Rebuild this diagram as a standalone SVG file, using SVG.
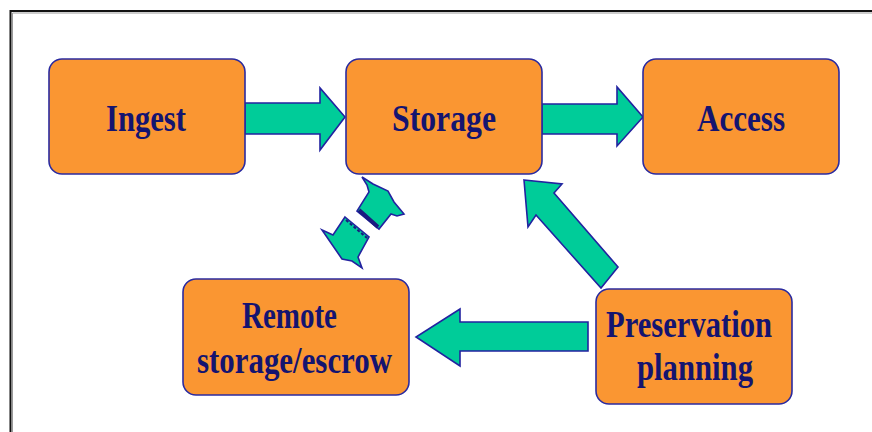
<svg xmlns="http://www.w3.org/2000/svg" width="872" height="432" viewBox="0 0 872 432">
  <style>
    .box { fill: #FA9632; stroke: #2B2BA0; stroke-width: 1.6; }
    .arrow { fill: #00CC99; stroke: #2222A0; stroke-width: 1.6; stroke-linejoin: miter; }
    .label { font-family: "Liberation Serif", "Times New Roman", serif; font-weight: bold; font-size: 37px; fill: #141470; text-anchor: middle; }
  </style>
  <rect width="872" height="432" fill="#ffffff"/>
  <!-- frame -->
  <path d="M10.5 432 V11 H872" fill="none" stroke="#111111" stroke-width="2"/>
  <path d="M12.5 432 V13 H872" fill="none" stroke="#9a9a9a" stroke-width="1"/>

  <g id="connectors">
    <!-- Ingest to Storage -->
    <polygon class="arrow" points="245,103 320,103 320,88 345,117 320,150 320,134 245,134"/>
    <!-- Storage to Access -->
    <polygon class="arrow" points="542,104 617,104 617,87 643,117 617,146 617,134 542,134"/>
    <!-- Preservation planning to Remote storage -->
    <polygon class="arrow" points="588,322 460,322 460,309 416,337 460,366 460,351 588,351"/>
    <!-- Preservation planning to Storage -->
    <polygon class="arrow" points="524,180 562,184 554,193 618,267 601,288 536,215 528,227"/>
    <!-- Storage / Remote storage exchange -->
    <polygon class="arrow" points="362,177 373,184 388,191 394,202 404,214 397,216 391,214 379,229 357,211 369,192 367,185"/>
    <polygon class="arrow" points="345,217 369,237 358,257 362,268 352,261 342,259 331,243 322,230 333,235"/>
    <path d="M359 210 L378 227" stroke="#1a1a80" stroke-width="4"/>
    <path d="M346 220 L367 238" stroke="#1a1a80" stroke-width="2" stroke-dasharray="3 2"/>
  </g>

  <g id="ingest">
    <rect class="box" x="49" y="59" width="196" height="115" rx="13"/>
    <text class="label" x="146" y="131" textLength="80" lengthAdjust="spacingAndGlyphs">Ingest</text>
  </g>
  <g id="storage">
    <rect class="box" x="346" y="59" width="196" height="115" rx="13"/>
    <text class="label" x="444" y="131" textLength="104" lengthAdjust="spacingAndGlyphs">Storage</text>
  </g>
  <g id="access">
    <rect class="box" x="643" y="59" width="196" height="115" rx="13"/>
    <text class="label" x="741" y="131" textLength="88" lengthAdjust="spacingAndGlyphs">Access</text>
  </g>
  <g id="remote">
    <rect class="box" x="183" y="279" width="226" height="116" rx="13"/>
    <text class="label" x="289.5" y="328" textLength="95" lengthAdjust="spacingAndGlyphs">Remote</text>
    <text class="label" x="294.5" y="373" textLength="195" lengthAdjust="spacingAndGlyphs">storage/escrow</text>
  </g>
  <g id="preservation">
    <rect class="box" x="596" y="289" width="196" height="115" rx="13"/>
    <text class="label" x="689" y="337" textLength="166" lengthAdjust="spacingAndGlyphs">Preservation</text>
    <text class="label" x="695" y="380" textLength="116" lengthAdjust="spacingAndGlyphs">planning</text>
  </g>
</svg>
